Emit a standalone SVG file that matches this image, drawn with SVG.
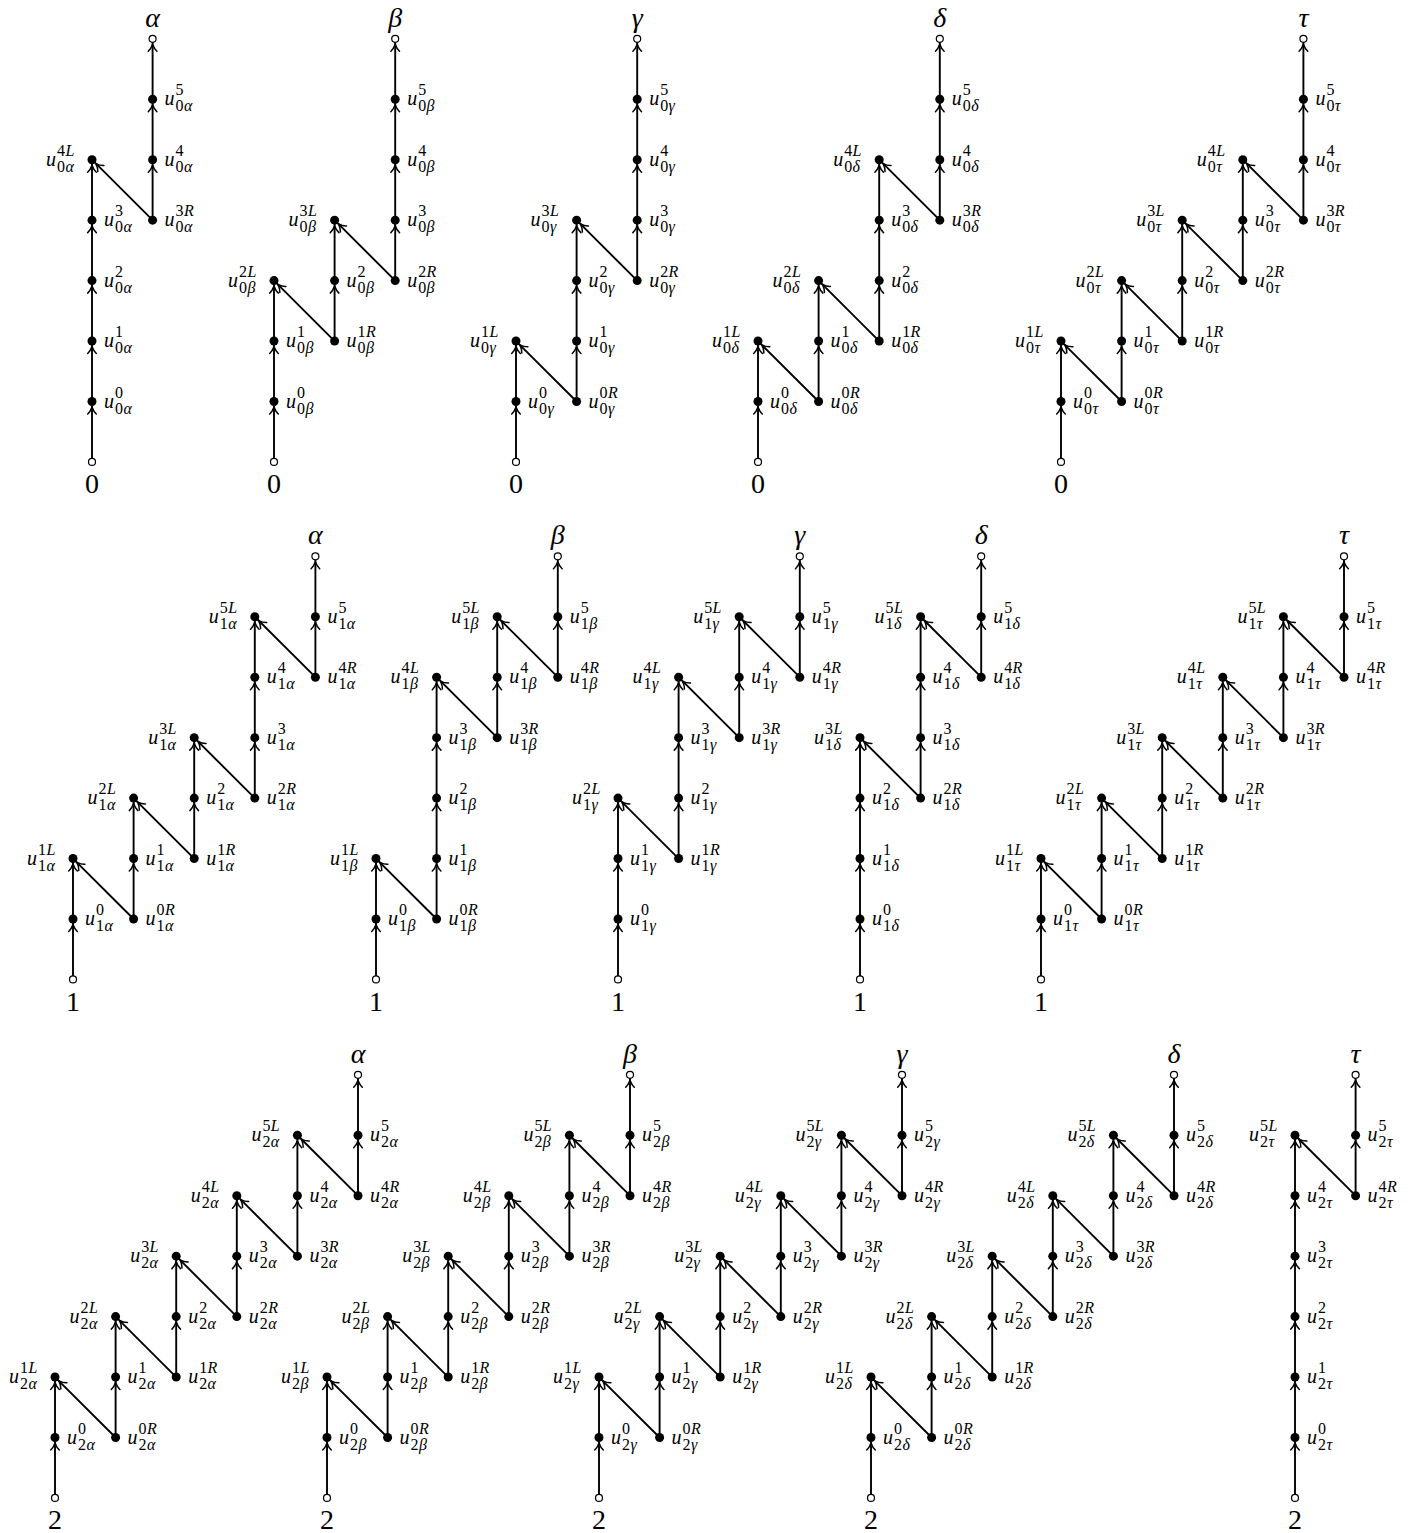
<svg xmlns="http://www.w3.org/2000/svg" width="1424" height="1533" viewBox="0 0 1424 1533" font-family="'Liberation Serif','DejaVu Serif',serif">
<defs>
<marker id="ah" viewBox="-10 -6 12 12" refX="5.5" refY="0" markerWidth="12" markerHeight="12" markerUnits="userSpaceOnUse" orient="auto">
<path d="M-7,-4.3 C-5.5,-2.6 -2.5,-0.9 0,0 C-2.5,0.9 -5.5,2.6 -7,4.3" fill="none" stroke="#000" stroke-width="1.5" stroke-linecap="round"/>
</marker>
</defs>
<style>
.d{fill:#000}
.o{fill:#fff;stroke:#000;stroke-width:1.2}
.e path{fill:none;stroke:#000;stroke-width:1.9;marker-end:url(#ah)}
.s{font-family:'Liberation Serif','DejaVu Serif',serif;font-size:16px;letter-spacing:0.4px;fill:#000}
.u{font-size:20px;font-style:italic;letter-spacing:0}
.i{font-style:italic}
.big{font-family:'Liberation Serif','DejaVu Serif',serif;font-size:28px;text-anchor:middle;fill:#000}
.gk{font-style:italic}
</style>
<rect width="1424" height="1533" fill="#fff"/>
<g id="connectors" class="e">
<g transform="translate(92,401.5)"><path d="M0,60.45V0"/><path d="M0,0V-60.45"/><path d="M0,-60.45V-120.9"/><path d="M0,-120.9V-181.35"/><path d="M0,-181.35V-241.8"/><path d="M60.6,-181.35L0,-241.8"/><path d="M60.6,-181.35V-241.8"/><path d="M60.6,-241.8V-302.25"/><path d="M60.6,-302.25V-362.7"/></g>
<g transform="translate(274,401.5)"><path d="M0,60.45V0"/><path d="M0,0V-60.45"/><path d="M0,-60.45V-120.9"/><path d="M60.6,-60.45L0,-120.9"/><path d="M60.6,-60.45V-120.9"/><path d="M60.6,-120.9V-181.35"/><path d="M121.2,-120.9L60.6,-181.35"/><path d="M121.2,-120.9V-181.35"/><path d="M121.2,-181.35V-241.8"/><path d="M121.2,-241.8V-302.25"/><path d="M121.2,-302.25V-362.7"/></g>
<g transform="translate(516,401.5)"><path d="M0,60.45V0"/><path d="M0,0V-60.45"/><path d="M60.6,0L0,-60.45"/><path d="M60.6,0V-60.45"/><path d="M60.6,-60.45V-120.9"/><path d="M60.6,-120.9V-181.35"/><path d="M121.2,-120.9L60.6,-181.35"/><path d="M121.2,-120.9V-181.35"/><path d="M121.2,-181.35V-241.8"/><path d="M121.2,-241.8V-302.25"/><path d="M121.2,-302.25V-362.7"/></g>
<g transform="translate(758,401.5)"><path d="M0,60.45V0"/><path d="M0,0V-60.45"/><path d="M60.6,0L0,-60.45"/><path d="M60.6,0V-60.45"/><path d="M60.6,-60.45V-120.9"/><path d="M121.2,-60.45L60.6,-120.9"/><path d="M121.2,-60.45V-120.9"/><path d="M121.2,-120.9V-181.35"/><path d="M121.2,-181.35V-241.8"/><path d="M181.8,-181.35L121.2,-241.8"/><path d="M181.8,-181.35V-241.8"/><path d="M181.8,-241.8V-302.25"/><path d="M181.8,-302.25V-362.7"/></g>
<g transform="translate(1061,401.5)"><path d="M0,60.45V0"/><path d="M0,0V-60.45"/><path d="M60.6,0L0,-60.45"/><path d="M60.6,0V-60.45"/><path d="M60.6,-60.45V-120.9"/><path d="M121.2,-60.45L60.6,-120.9"/><path d="M121.2,-60.45V-120.9"/><path d="M121.2,-120.9V-181.35"/><path d="M181.8,-120.9L121.2,-181.35"/><path d="M181.8,-120.9V-181.35"/><path d="M181.8,-181.35V-241.8"/><path d="M242.4,-181.35L181.8,-241.8"/><path d="M242.4,-181.35V-241.8"/><path d="M242.4,-241.8V-302.25"/><path d="M242.4,-302.25V-362.7"/></g>
<g transform="translate(73,919)"><path d="M0,60.45V0"/><path d="M0,0V-60.45"/><path d="M60.6,0L0,-60.45"/><path d="M60.6,0V-60.45"/><path d="M60.6,-60.45V-120.9"/><path d="M121.2,-60.45L60.6,-120.9"/><path d="M121.2,-60.45V-120.9"/><path d="M121.2,-120.9V-181.35"/><path d="M181.8,-120.9L121.2,-181.35"/><path d="M181.8,-120.9V-181.35"/><path d="M181.8,-181.35V-241.8"/><path d="M181.8,-241.8V-302.25"/><path d="M242.4,-241.8L181.8,-302.25"/><path d="M242.4,-241.8V-302.25"/><path d="M242.4,-302.25V-362.7"/></g>
<g transform="translate(376,919)"><path d="M0,60.45V0"/><path d="M0,0V-60.45"/><path d="M60.6,0L0,-60.45"/><path d="M60.6,0V-60.45"/><path d="M60.6,-60.45V-120.9"/><path d="M60.6,-120.9V-181.35"/><path d="M60.6,-181.35V-241.8"/><path d="M121.2,-181.35L60.6,-241.8"/><path d="M121.2,-181.35V-241.8"/><path d="M121.2,-241.8V-302.25"/><path d="M181.8,-241.8L121.2,-302.25"/><path d="M181.8,-241.8V-302.25"/><path d="M181.8,-302.25V-362.7"/></g>
<g transform="translate(618,919)"><path d="M0,60.45V0"/><path d="M0,0V-60.45"/><path d="M0,-60.45V-120.9"/><path d="M60.6,-60.45L0,-120.9"/><path d="M60.6,-60.45V-120.9"/><path d="M60.6,-120.9V-181.35"/><path d="M60.6,-181.35V-241.8"/><path d="M121.2,-181.35L60.6,-241.8"/><path d="M121.2,-181.35V-241.8"/><path d="M121.2,-241.8V-302.25"/><path d="M181.8,-241.8L121.2,-302.25"/><path d="M181.8,-241.8V-302.25"/><path d="M181.8,-302.25V-362.7"/></g>
<g transform="translate(860,919)"><path d="M0,60.45V0"/><path d="M0,0V-60.45"/><path d="M0,-60.45V-120.9"/><path d="M0,-120.9V-181.35"/><path d="M60.6,-120.9L0,-181.35"/><path d="M60.6,-120.9V-181.35"/><path d="M60.6,-181.35V-241.8"/><path d="M60.6,-241.8V-302.25"/><path d="M121.2,-241.8L60.6,-302.25"/><path d="M121.2,-241.8V-302.25"/><path d="M121.2,-302.25V-362.7"/></g>
<g transform="translate(1041,919)"><path d="M0,60.45V0"/><path d="M0,0V-60.45"/><path d="M60.6,0L0,-60.45"/><path d="M60.6,0V-60.45"/><path d="M60.6,-60.45V-120.9"/><path d="M121.2,-60.45L60.6,-120.9"/><path d="M121.2,-60.45V-120.9"/><path d="M121.2,-120.9V-181.35"/><path d="M181.8,-120.9L121.2,-181.35"/><path d="M181.8,-120.9V-181.35"/><path d="M181.8,-181.35V-241.8"/><path d="M242.4,-181.35L181.8,-241.8"/><path d="M242.4,-181.35V-241.8"/><path d="M242.4,-241.8V-302.25"/><path d="M303,-241.8L242.4,-302.25"/><path d="M303,-241.8V-302.25"/><path d="M303,-302.25V-362.7"/></g>
<g transform="translate(55,1437.5)"><path d="M0,60.45V0"/><path d="M0,0V-60.45"/><path d="M60.6,0L0,-60.45"/><path d="M60.6,0V-60.45"/><path d="M60.6,-60.45V-120.9"/><path d="M121.2,-60.45L60.6,-120.9"/><path d="M121.2,-60.45V-120.9"/><path d="M121.2,-120.9V-181.35"/><path d="M181.8,-120.9L121.2,-181.35"/><path d="M181.8,-120.9V-181.35"/><path d="M181.8,-181.35V-241.8"/><path d="M242.4,-181.35L181.8,-241.8"/><path d="M242.4,-181.35V-241.8"/><path d="M242.4,-241.8V-302.25"/><path d="M303,-241.8L242.4,-302.25"/><path d="M303,-241.8V-302.25"/><path d="M303,-302.25V-362.7"/></g>
<g transform="translate(327,1437.5)"><path d="M0,60.45V0"/><path d="M0,0V-60.45"/><path d="M60.6,0L0,-60.45"/><path d="M60.6,0V-60.45"/><path d="M60.6,-60.45V-120.9"/><path d="M121.2,-60.45L60.6,-120.9"/><path d="M121.2,-60.45V-120.9"/><path d="M121.2,-120.9V-181.35"/><path d="M181.8,-120.9L121.2,-181.35"/><path d="M181.8,-120.9V-181.35"/><path d="M181.8,-181.35V-241.8"/><path d="M242.4,-181.35L181.8,-241.8"/><path d="M242.4,-181.35V-241.8"/><path d="M242.4,-241.8V-302.25"/><path d="M303,-241.8L242.4,-302.25"/><path d="M303,-241.8V-302.25"/><path d="M303,-302.25V-362.7"/></g>
<g transform="translate(599,1437.5)"><path d="M0,60.45V0"/><path d="M0,0V-60.45"/><path d="M60.6,0L0,-60.45"/><path d="M60.6,0V-60.45"/><path d="M60.6,-60.45V-120.9"/><path d="M121.2,-60.45L60.6,-120.9"/><path d="M121.2,-60.45V-120.9"/><path d="M121.2,-120.9V-181.35"/><path d="M181.8,-120.9L121.2,-181.35"/><path d="M181.8,-120.9V-181.35"/><path d="M181.8,-181.35V-241.8"/><path d="M242.4,-181.35L181.8,-241.8"/><path d="M242.4,-181.35V-241.8"/><path d="M242.4,-241.8V-302.25"/><path d="M303,-241.8L242.4,-302.25"/><path d="M303,-241.8V-302.25"/><path d="M303,-302.25V-362.7"/></g>
<g transform="translate(871,1437.5)"><path d="M0,60.45V0"/><path d="M0,0V-60.45"/><path d="M60.6,0L0,-60.45"/><path d="M60.6,0V-60.45"/><path d="M60.6,-60.45V-120.9"/><path d="M121.2,-60.45L60.6,-120.9"/><path d="M121.2,-60.45V-120.9"/><path d="M121.2,-120.9V-181.35"/><path d="M181.8,-120.9L121.2,-181.35"/><path d="M181.8,-120.9V-181.35"/><path d="M181.8,-181.35V-241.8"/><path d="M242.4,-181.35L181.8,-241.8"/><path d="M242.4,-181.35V-241.8"/><path d="M242.4,-241.8V-302.25"/><path d="M303,-241.8L242.4,-302.25"/><path d="M303,-241.8V-302.25"/><path d="M303,-302.25V-362.7"/></g>
<g transform="translate(1295,1437.5)"><path d="M0,60.45V0"/><path d="M0,0V-60.45"/><path d="M0,-60.45V-120.9"/><path d="M0,-120.9V-181.35"/><path d="M0,-181.35V-241.8"/><path d="M0,-241.8V-302.25"/><path d="M60.6,-241.8L0,-302.25"/><path d="M60.6,-241.8V-302.25"/><path d="M60.6,-302.25V-362.7"/></g>
</g>
<g id="nodes">
<g id="graph-0a" transform="translate(92,401.5)">
<g id="n0a-src" transform="translate(0,60.45)"><circle class="o" r="3.5"/><text class="big" y="31.5">0</text></g>
<g id="n0a-0" transform="translate(0,0)"><circle class="d" r="4.5"/><text class="s"><tspan class="u" x="12" y="6">u</tspan><tspan x="23" y="-4">0</tspan><tspan x="23" y="12">0<tspan class="i">α</tspan></tspan></text></g>
<g id="n0a-1" transform="translate(0,-60.45)"><circle class="d" r="4.5"/><text class="s"><tspan class="u" x="12" y="6">u</tspan><tspan x="23" y="-4">1</tspan><tspan x="23" y="12">0<tspan class="i">α</tspan></tspan></text></g>
<g id="n0a-2" transform="translate(0,-120.9)"><circle class="d" r="4.5"/><text class="s"><tspan class="u" x="12" y="6">u</tspan><tspan x="23" y="-4">2</tspan><tspan x="23" y="12">0<tspan class="i">α</tspan></tspan></text></g>
<g id="n0a-3" transform="translate(0,-181.35)"><circle class="d" r="4.5"/><text class="s"><tspan class="u" x="12" y="6">u</tspan><tspan x="23" y="-4">3</tspan><tspan x="23" y="12">0<tspan class="i">α</tspan></tspan></text></g>
<g id="n0a-4L" transform="translate(0,-241.8)"><circle class="d" r="4.5"/><text class="s"><tspan class="u" x="-46" y="6">u</tspan><tspan x="-35" y="-4">4<tspan class="i">L</tspan></tspan><tspan x="-35" y="12">0<tspan class="i">α</tspan></tspan></text></g>
<g id="n0a-3R" transform="translate(60.6,-181.35)"><circle class="d" r="4.5"/><text class="s"><tspan class="u" x="12" y="6">u</tspan><tspan x="23" y="-4">3<tspan class="i">R</tspan></tspan><tspan x="23" y="12">0<tspan class="i">α</tspan></tspan></text></g>
<g id="n0a-4" transform="translate(60.6,-241.8)"><circle class="d" r="4.5"/><text class="s"><tspan class="u" x="12" y="6">u</tspan><tspan x="23" y="-4">4</tspan><tspan x="23" y="12">0<tspan class="i">α</tspan></tspan></text></g>
<g id="n0a-5" transform="translate(60.6,-302.25)"><circle class="d" r="4.5"/><text class="s"><tspan class="u" x="12" y="6">u</tspan><tspan x="23" y="-4">5</tspan><tspan x="23" y="12">0<tspan class="i">α</tspan></tspan></text></g>
<g id="n0a-tgt" transform="translate(60.6,-362.7)"><circle class="o" r="3.5"/><text class="big gk" y="-12">α</text></g>
</g>
<g id="graph-0b" transform="translate(274,401.5)">
<g id="n0b-src" transform="translate(0,60.45)"><circle class="o" r="3.5"/><text class="big" y="31.5">0</text></g>
<g id="n0b-0" transform="translate(0,0)"><circle class="d" r="4.5"/><text class="s"><tspan class="u" x="12" y="6">u</tspan><tspan x="23" y="-4">0</tspan><tspan x="23" y="12">0<tspan class="i">β</tspan></tspan></text></g>
<g id="n0b-1" transform="translate(0,-60.45)"><circle class="d" r="4.5"/><text class="s"><tspan class="u" x="12" y="6">u</tspan><tspan x="23" y="-4">1</tspan><tspan x="23" y="12">0<tspan class="i">β</tspan></tspan></text></g>
<g id="n0b-2L" transform="translate(0,-120.9)"><circle class="d" r="4.5"/><text class="s"><tspan class="u" x="-46" y="6">u</tspan><tspan x="-35" y="-4">2<tspan class="i">L</tspan></tspan><tspan x="-35" y="12">0<tspan class="i">β</tspan></tspan></text></g>
<g id="n0b-1R" transform="translate(60.6,-60.45)"><circle class="d" r="4.5"/><text class="s"><tspan class="u" x="12" y="6">u</tspan><tspan x="23" y="-4">1<tspan class="i">R</tspan></tspan><tspan x="23" y="12">0<tspan class="i">β</tspan></tspan></text></g>
<g id="n0b-2" transform="translate(60.6,-120.9)"><circle class="d" r="4.5"/><text class="s"><tspan class="u" x="12" y="6">u</tspan><tspan x="23" y="-4">2</tspan><tspan x="23" y="12">0<tspan class="i">β</tspan></tspan></text></g>
<g id="n0b-3L" transform="translate(60.6,-181.35)"><circle class="d" r="4.5"/><text class="s"><tspan class="u" x="-46" y="6">u</tspan><tspan x="-35" y="-4">3<tspan class="i">L</tspan></tspan><tspan x="-35" y="12">0<tspan class="i">β</tspan></tspan></text></g>
<g id="n0b-2R" transform="translate(121.2,-120.9)"><circle class="d" r="4.5"/><text class="s"><tspan class="u" x="12" y="6">u</tspan><tspan x="23" y="-4">2<tspan class="i">R</tspan></tspan><tspan x="23" y="12">0<tspan class="i">β</tspan></tspan></text></g>
<g id="n0b-3" transform="translate(121.2,-181.35)"><circle class="d" r="4.5"/><text class="s"><tspan class="u" x="12" y="6">u</tspan><tspan x="23" y="-4">3</tspan><tspan x="23" y="12">0<tspan class="i">β</tspan></tspan></text></g>
<g id="n0b-4" transform="translate(121.2,-241.8)"><circle class="d" r="4.5"/><text class="s"><tspan class="u" x="12" y="6">u</tspan><tspan x="23" y="-4">4</tspan><tspan x="23" y="12">0<tspan class="i">β</tspan></tspan></text></g>
<g id="n0b-5" transform="translate(121.2,-302.25)"><circle class="d" r="4.5"/><text class="s"><tspan class="u" x="12" y="6">u</tspan><tspan x="23" y="-4">5</tspan><tspan x="23" y="12">0<tspan class="i">β</tspan></tspan></text></g>
<g id="n0b-tgt" transform="translate(121.2,-362.7)"><circle class="o" r="3.5"/><text class="big gk" y="-12">β</text></g>
</g>
<g id="graph-0g" transform="translate(516,401.5)">
<g id="n0g-src" transform="translate(0,60.45)"><circle class="o" r="3.5"/><text class="big" y="31.5">0</text></g>
<g id="n0g-0" transform="translate(0,0)"><circle class="d" r="4.5"/><text class="s"><tspan class="u" x="12" y="6">u</tspan><tspan x="23" y="-4">0</tspan><tspan x="23" y="12">0<tspan class="i">γ</tspan></tspan></text></g>
<g id="n0g-1L" transform="translate(0,-60.45)"><circle class="d" r="4.5"/><text class="s"><tspan class="u" x="-46" y="6">u</tspan><tspan x="-35" y="-4">1<tspan class="i">L</tspan></tspan><tspan x="-35" y="12">0<tspan class="i">γ</tspan></tspan></text></g>
<g id="n0g-0R" transform="translate(60.6,0)"><circle class="d" r="4.5"/><text class="s"><tspan class="u" x="12" y="6">u</tspan><tspan x="23" y="-4">0<tspan class="i">R</tspan></tspan><tspan x="23" y="12">0<tspan class="i">γ</tspan></tspan></text></g>
<g id="n0g-1" transform="translate(60.6,-60.45)"><circle class="d" r="4.5"/><text class="s"><tspan class="u" x="12" y="6">u</tspan><tspan x="23" y="-4">1</tspan><tspan x="23" y="12">0<tspan class="i">γ</tspan></tspan></text></g>
<g id="n0g-2" transform="translate(60.6,-120.9)"><circle class="d" r="4.5"/><text class="s"><tspan class="u" x="12" y="6">u</tspan><tspan x="23" y="-4">2</tspan><tspan x="23" y="12">0<tspan class="i">γ</tspan></tspan></text></g>
<g id="n0g-3L" transform="translate(60.6,-181.35)"><circle class="d" r="4.5"/><text class="s"><tspan class="u" x="-46" y="6">u</tspan><tspan x="-35" y="-4">3<tspan class="i">L</tspan></tspan><tspan x="-35" y="12">0<tspan class="i">γ</tspan></tspan></text></g>
<g id="n0g-2R" transform="translate(121.2,-120.9)"><circle class="d" r="4.5"/><text class="s"><tspan class="u" x="12" y="6">u</tspan><tspan x="23" y="-4">2<tspan class="i">R</tspan></tspan><tspan x="23" y="12">0<tspan class="i">γ</tspan></tspan></text></g>
<g id="n0g-3" transform="translate(121.2,-181.35)"><circle class="d" r="4.5"/><text class="s"><tspan class="u" x="12" y="6">u</tspan><tspan x="23" y="-4">3</tspan><tspan x="23" y="12">0<tspan class="i">γ</tspan></tspan></text></g>
<g id="n0g-4" transform="translate(121.2,-241.8)"><circle class="d" r="4.5"/><text class="s"><tspan class="u" x="12" y="6">u</tspan><tspan x="23" y="-4">4</tspan><tspan x="23" y="12">0<tspan class="i">γ</tspan></tspan></text></g>
<g id="n0g-5" transform="translate(121.2,-302.25)"><circle class="d" r="4.5"/><text class="s"><tspan class="u" x="12" y="6">u</tspan><tspan x="23" y="-4">5</tspan><tspan x="23" y="12">0<tspan class="i">γ</tspan></tspan></text></g>
<g id="n0g-tgt" transform="translate(121.2,-362.7)"><circle class="o" r="3.5"/><text class="big gk" y="-12">γ</text></g>
</g>
<g id="graph-0d" transform="translate(758,401.5)">
<g id="n0d-src" transform="translate(0,60.45)"><circle class="o" r="3.5"/><text class="big" y="31.5">0</text></g>
<g id="n0d-0" transform="translate(0,0)"><circle class="d" r="4.5"/><text class="s"><tspan class="u" x="12" y="6">u</tspan><tspan x="23" y="-4">0</tspan><tspan x="23" y="12">0<tspan class="i">δ</tspan></tspan></text></g>
<g id="n0d-1L" transform="translate(0,-60.45)"><circle class="d" r="4.5"/><text class="s"><tspan class="u" x="-46" y="6">u</tspan><tspan x="-35" y="-4">1<tspan class="i">L</tspan></tspan><tspan x="-35" y="12">0<tspan class="i">δ</tspan></tspan></text></g>
<g id="n0d-0R" transform="translate(60.6,0)"><circle class="d" r="4.5"/><text class="s"><tspan class="u" x="12" y="6">u</tspan><tspan x="23" y="-4">0<tspan class="i">R</tspan></tspan><tspan x="23" y="12">0<tspan class="i">δ</tspan></tspan></text></g>
<g id="n0d-1" transform="translate(60.6,-60.45)"><circle class="d" r="4.5"/><text class="s"><tspan class="u" x="12" y="6">u</tspan><tspan x="23" y="-4">1</tspan><tspan x="23" y="12">0<tspan class="i">δ</tspan></tspan></text></g>
<g id="n0d-2L" transform="translate(60.6,-120.9)"><circle class="d" r="4.5"/><text class="s"><tspan class="u" x="-46" y="6">u</tspan><tspan x="-35" y="-4">2<tspan class="i">L</tspan></tspan><tspan x="-35" y="12">0<tspan class="i">δ</tspan></tspan></text></g>
<g id="n0d-1R" transform="translate(121.2,-60.45)"><circle class="d" r="4.5"/><text class="s"><tspan class="u" x="12" y="6">u</tspan><tspan x="23" y="-4">1<tspan class="i">R</tspan></tspan><tspan x="23" y="12">0<tspan class="i">δ</tspan></tspan></text></g>
<g id="n0d-2" transform="translate(121.2,-120.9)"><circle class="d" r="4.5"/><text class="s"><tspan class="u" x="12" y="6">u</tspan><tspan x="23" y="-4">2</tspan><tspan x="23" y="12">0<tspan class="i">δ</tspan></tspan></text></g>
<g id="n0d-3" transform="translate(121.2,-181.35)"><circle class="d" r="4.5"/><text class="s"><tspan class="u" x="12" y="6">u</tspan><tspan x="23" y="-4">3</tspan><tspan x="23" y="12">0<tspan class="i">δ</tspan></tspan></text></g>
<g id="n0d-4L" transform="translate(121.2,-241.8)"><circle class="d" r="4.5"/><text class="s"><tspan class="u" x="-46" y="6">u</tspan><tspan x="-35" y="-4">4<tspan class="i">L</tspan></tspan><tspan x="-35" y="12">0<tspan class="i">δ</tspan></tspan></text></g>
<g id="n0d-3R" transform="translate(181.8,-181.35)"><circle class="d" r="4.5"/><text class="s"><tspan class="u" x="12" y="6">u</tspan><tspan x="23" y="-4">3<tspan class="i">R</tspan></tspan><tspan x="23" y="12">0<tspan class="i">δ</tspan></tspan></text></g>
<g id="n0d-4" transform="translate(181.8,-241.8)"><circle class="d" r="4.5"/><text class="s"><tspan class="u" x="12" y="6">u</tspan><tspan x="23" y="-4">4</tspan><tspan x="23" y="12">0<tspan class="i">δ</tspan></tspan></text></g>
<g id="n0d-5" transform="translate(181.8,-302.25)"><circle class="d" r="4.5"/><text class="s"><tspan class="u" x="12" y="6">u</tspan><tspan x="23" y="-4">5</tspan><tspan x="23" y="12">0<tspan class="i">δ</tspan></tspan></text></g>
<g id="n0d-tgt" transform="translate(181.8,-362.7)"><circle class="o" r="3.5"/><text class="big gk" y="-12">δ</text></g>
</g>
<g id="graph-0t" transform="translate(1061,401.5)">
<g id="n0t-src" transform="translate(0,60.45)"><circle class="o" r="3.5"/><text class="big" y="31.5">0</text></g>
<g id="n0t-0" transform="translate(0,0)"><circle class="d" r="4.5"/><text class="s"><tspan class="u" x="12" y="6">u</tspan><tspan x="23" y="-4">0</tspan><tspan x="23" y="12">0<tspan class="i">τ</tspan></tspan></text></g>
<g id="n0t-1L" transform="translate(0,-60.45)"><circle class="d" r="4.5"/><text class="s"><tspan class="u" x="-46" y="6">u</tspan><tspan x="-35" y="-4">1<tspan class="i">L</tspan></tspan><tspan x="-35" y="12">0<tspan class="i">τ</tspan></tspan></text></g>
<g id="n0t-0R" transform="translate(60.6,0)"><circle class="d" r="4.5"/><text class="s"><tspan class="u" x="12" y="6">u</tspan><tspan x="23" y="-4">0<tspan class="i">R</tspan></tspan><tspan x="23" y="12">0<tspan class="i">τ</tspan></tspan></text></g>
<g id="n0t-1" transform="translate(60.6,-60.45)"><circle class="d" r="4.5"/><text class="s"><tspan class="u" x="12" y="6">u</tspan><tspan x="23" y="-4">1</tspan><tspan x="23" y="12">0<tspan class="i">τ</tspan></tspan></text></g>
<g id="n0t-2L" transform="translate(60.6,-120.9)"><circle class="d" r="4.5"/><text class="s"><tspan class="u" x="-46" y="6">u</tspan><tspan x="-35" y="-4">2<tspan class="i">L</tspan></tspan><tspan x="-35" y="12">0<tspan class="i">τ</tspan></tspan></text></g>
<g id="n0t-1R" transform="translate(121.2,-60.45)"><circle class="d" r="4.5"/><text class="s"><tspan class="u" x="12" y="6">u</tspan><tspan x="23" y="-4">1<tspan class="i">R</tspan></tspan><tspan x="23" y="12">0<tspan class="i">τ</tspan></tspan></text></g>
<g id="n0t-2" transform="translate(121.2,-120.9)"><circle class="d" r="4.5"/><text class="s"><tspan class="u" x="12" y="6">u</tspan><tspan x="23" y="-4">2</tspan><tspan x="23" y="12">0<tspan class="i">τ</tspan></tspan></text></g>
<g id="n0t-3L" transform="translate(121.2,-181.35)"><circle class="d" r="4.5"/><text class="s"><tspan class="u" x="-46" y="6">u</tspan><tspan x="-35" y="-4">3<tspan class="i">L</tspan></tspan><tspan x="-35" y="12">0<tspan class="i">τ</tspan></tspan></text></g>
<g id="n0t-2R" transform="translate(181.8,-120.9)"><circle class="d" r="4.5"/><text class="s"><tspan class="u" x="12" y="6">u</tspan><tspan x="23" y="-4">2<tspan class="i">R</tspan></tspan><tspan x="23" y="12">0<tspan class="i">τ</tspan></tspan></text></g>
<g id="n0t-3" transform="translate(181.8,-181.35)"><circle class="d" r="4.5"/><text class="s"><tspan class="u" x="12" y="6">u</tspan><tspan x="23" y="-4">3</tspan><tspan x="23" y="12">0<tspan class="i">τ</tspan></tspan></text></g>
<g id="n0t-4L" transform="translate(181.8,-241.8)"><circle class="d" r="4.5"/><text class="s"><tspan class="u" x="-46" y="6">u</tspan><tspan x="-35" y="-4">4<tspan class="i">L</tspan></tspan><tspan x="-35" y="12">0<tspan class="i">τ</tspan></tspan></text></g>
<g id="n0t-3R" transform="translate(242.4,-181.35)"><circle class="d" r="4.5"/><text class="s"><tspan class="u" x="12" y="6">u</tspan><tspan x="23" y="-4">3<tspan class="i">R</tspan></tspan><tspan x="23" y="12">0<tspan class="i">τ</tspan></tspan></text></g>
<g id="n0t-4" transform="translate(242.4,-241.8)"><circle class="d" r="4.5"/><text class="s"><tspan class="u" x="12" y="6">u</tspan><tspan x="23" y="-4">4</tspan><tspan x="23" y="12">0<tspan class="i">τ</tspan></tspan></text></g>
<g id="n0t-5" transform="translate(242.4,-302.25)"><circle class="d" r="4.5"/><text class="s"><tspan class="u" x="12" y="6">u</tspan><tspan x="23" y="-4">5</tspan><tspan x="23" y="12">0<tspan class="i">τ</tspan></tspan></text></g>
<g id="n0t-tgt" transform="translate(242.4,-362.7)"><circle class="o" r="3.5"/><text class="big gk" y="-12">τ</text></g>
</g>
<g id="graph-1a" transform="translate(73,919)">
<g id="n1a-src" transform="translate(0,60.45)"><circle class="o" r="3.5"/><text class="big" y="31.5">1</text></g>
<g id="n1a-0" transform="translate(0,0)"><circle class="d" r="4.5"/><text class="s"><tspan class="u" x="12" y="6">u</tspan><tspan x="23" y="-4">0</tspan><tspan x="23" y="12">1<tspan class="i">α</tspan></tspan></text></g>
<g id="n1a-1L" transform="translate(0,-60.45)"><circle class="d" r="4.5"/><text class="s"><tspan class="u" x="-46" y="6">u</tspan><tspan x="-35" y="-4">1<tspan class="i">L</tspan></tspan><tspan x="-35" y="12">1<tspan class="i">α</tspan></tspan></text></g>
<g id="n1a-0R" transform="translate(60.6,0)"><circle class="d" r="4.5"/><text class="s"><tspan class="u" x="12" y="6">u</tspan><tspan x="23" y="-4">0<tspan class="i">R</tspan></tspan><tspan x="23" y="12">1<tspan class="i">α</tspan></tspan></text></g>
<g id="n1a-1" transform="translate(60.6,-60.45)"><circle class="d" r="4.5"/><text class="s"><tspan class="u" x="12" y="6">u</tspan><tspan x="23" y="-4">1</tspan><tspan x="23" y="12">1<tspan class="i">α</tspan></tspan></text></g>
<g id="n1a-2L" transform="translate(60.6,-120.9)"><circle class="d" r="4.5"/><text class="s"><tspan class="u" x="-46" y="6">u</tspan><tspan x="-35" y="-4">2<tspan class="i">L</tspan></tspan><tspan x="-35" y="12">1<tspan class="i">α</tspan></tspan></text></g>
<g id="n1a-1R" transform="translate(121.2,-60.45)"><circle class="d" r="4.5"/><text class="s"><tspan class="u" x="12" y="6">u</tspan><tspan x="23" y="-4">1<tspan class="i">R</tspan></tspan><tspan x="23" y="12">1<tspan class="i">α</tspan></tspan></text></g>
<g id="n1a-2" transform="translate(121.2,-120.9)"><circle class="d" r="4.5"/><text class="s"><tspan class="u" x="12" y="6">u</tspan><tspan x="23" y="-4">2</tspan><tspan x="23" y="12">1<tspan class="i">α</tspan></tspan></text></g>
<g id="n1a-3L" transform="translate(121.2,-181.35)"><circle class="d" r="4.5"/><text class="s"><tspan class="u" x="-46" y="6">u</tspan><tspan x="-35" y="-4">3<tspan class="i">L</tspan></tspan><tspan x="-35" y="12">1<tspan class="i">α</tspan></tspan></text></g>
<g id="n1a-2R" transform="translate(181.8,-120.9)"><circle class="d" r="4.5"/><text class="s"><tspan class="u" x="12" y="6">u</tspan><tspan x="23" y="-4">2<tspan class="i">R</tspan></tspan><tspan x="23" y="12">1<tspan class="i">α</tspan></tspan></text></g>
<g id="n1a-3" transform="translate(181.8,-181.35)"><circle class="d" r="4.5"/><text class="s"><tspan class="u" x="12" y="6">u</tspan><tspan x="23" y="-4">3</tspan><tspan x="23" y="12">1<tspan class="i">α</tspan></tspan></text></g>
<g id="n1a-4" transform="translate(181.8,-241.8)"><circle class="d" r="4.5"/><text class="s"><tspan class="u" x="12" y="6">u</tspan><tspan x="23" y="-4">4</tspan><tspan x="23" y="12">1<tspan class="i">α</tspan></tspan></text></g>
<g id="n1a-5L" transform="translate(181.8,-302.25)"><circle class="d" r="4.5"/><text class="s"><tspan class="u" x="-46" y="6">u</tspan><tspan x="-35" y="-4">5<tspan class="i">L</tspan></tspan><tspan x="-35" y="12">1<tspan class="i">α</tspan></tspan></text></g>
<g id="n1a-4R" transform="translate(242.4,-241.8)"><circle class="d" r="4.5"/><text class="s"><tspan class="u" x="12" y="6">u</tspan><tspan x="23" y="-4">4<tspan class="i">R</tspan></tspan><tspan x="23" y="12">1<tspan class="i">α</tspan></tspan></text></g>
<g id="n1a-5" transform="translate(242.4,-302.25)"><circle class="d" r="4.5"/><text class="s"><tspan class="u" x="12" y="6">u</tspan><tspan x="23" y="-4">5</tspan><tspan x="23" y="12">1<tspan class="i">α</tspan></tspan></text></g>
<g id="n1a-tgt" transform="translate(242.4,-362.7)"><circle class="o" r="3.5"/><text class="big gk" y="-12">α</text></g>
</g>
<g id="graph-1b" transform="translate(376,919)">
<g id="n1b-src" transform="translate(0,60.45)"><circle class="o" r="3.5"/><text class="big" y="31.5">1</text></g>
<g id="n1b-0" transform="translate(0,0)"><circle class="d" r="4.5"/><text class="s"><tspan class="u" x="12" y="6">u</tspan><tspan x="23" y="-4">0</tspan><tspan x="23" y="12">1<tspan class="i">β</tspan></tspan></text></g>
<g id="n1b-1L" transform="translate(0,-60.45)"><circle class="d" r="4.5"/><text class="s"><tspan class="u" x="-46" y="6">u</tspan><tspan x="-35" y="-4">1<tspan class="i">L</tspan></tspan><tspan x="-35" y="12">1<tspan class="i">β</tspan></tspan></text></g>
<g id="n1b-0R" transform="translate(60.6,0)"><circle class="d" r="4.5"/><text class="s"><tspan class="u" x="12" y="6">u</tspan><tspan x="23" y="-4">0<tspan class="i">R</tspan></tspan><tspan x="23" y="12">1<tspan class="i">β</tspan></tspan></text></g>
<g id="n1b-1" transform="translate(60.6,-60.45)"><circle class="d" r="4.5"/><text class="s"><tspan class="u" x="12" y="6">u</tspan><tspan x="23" y="-4">1</tspan><tspan x="23" y="12">1<tspan class="i">β</tspan></tspan></text></g>
<g id="n1b-2" transform="translate(60.6,-120.9)"><circle class="d" r="4.5"/><text class="s"><tspan class="u" x="12" y="6">u</tspan><tspan x="23" y="-4">2</tspan><tspan x="23" y="12">1<tspan class="i">β</tspan></tspan></text></g>
<g id="n1b-3" transform="translate(60.6,-181.35)"><circle class="d" r="4.5"/><text class="s"><tspan class="u" x="12" y="6">u</tspan><tspan x="23" y="-4">3</tspan><tspan x="23" y="12">1<tspan class="i">β</tspan></tspan></text></g>
<g id="n1b-4L" transform="translate(60.6,-241.8)"><circle class="d" r="4.5"/><text class="s"><tspan class="u" x="-46" y="6">u</tspan><tspan x="-35" y="-4">4<tspan class="i">L</tspan></tspan><tspan x="-35" y="12">1<tspan class="i">β</tspan></tspan></text></g>
<g id="n1b-3R" transform="translate(121.2,-181.35)"><circle class="d" r="4.5"/><text class="s"><tspan class="u" x="12" y="6">u</tspan><tspan x="23" y="-4">3<tspan class="i">R</tspan></tspan><tspan x="23" y="12">1<tspan class="i">β</tspan></tspan></text></g>
<g id="n1b-4" transform="translate(121.2,-241.8)"><circle class="d" r="4.5"/><text class="s"><tspan class="u" x="12" y="6">u</tspan><tspan x="23" y="-4">4</tspan><tspan x="23" y="12">1<tspan class="i">β</tspan></tspan></text></g>
<g id="n1b-5L" transform="translate(121.2,-302.25)"><circle class="d" r="4.5"/><text class="s"><tspan class="u" x="-46" y="6">u</tspan><tspan x="-35" y="-4">5<tspan class="i">L</tspan></tspan><tspan x="-35" y="12">1<tspan class="i">β</tspan></tspan></text></g>
<g id="n1b-4R" transform="translate(181.8,-241.8)"><circle class="d" r="4.5"/><text class="s"><tspan class="u" x="12" y="6">u</tspan><tspan x="23" y="-4">4<tspan class="i">R</tspan></tspan><tspan x="23" y="12">1<tspan class="i">β</tspan></tspan></text></g>
<g id="n1b-5" transform="translate(181.8,-302.25)"><circle class="d" r="4.5"/><text class="s"><tspan class="u" x="12" y="6">u</tspan><tspan x="23" y="-4">5</tspan><tspan x="23" y="12">1<tspan class="i">β</tspan></tspan></text></g>
<g id="n1b-tgt" transform="translate(181.8,-362.7)"><circle class="o" r="3.5"/><text class="big gk" y="-12">β</text></g>
</g>
<g id="graph-1g" transform="translate(618,919)">
<g id="n1g-src" transform="translate(0,60.45)"><circle class="o" r="3.5"/><text class="big" y="31.5">1</text></g>
<g id="n1g-0" transform="translate(0,0)"><circle class="d" r="4.5"/><text class="s"><tspan class="u" x="12" y="6">u</tspan><tspan x="23" y="-4">0</tspan><tspan x="23" y="12">1<tspan class="i">γ</tspan></tspan></text></g>
<g id="n1g-1" transform="translate(0,-60.45)"><circle class="d" r="4.5"/><text class="s"><tspan class="u" x="12" y="6">u</tspan><tspan x="23" y="-4">1</tspan><tspan x="23" y="12">1<tspan class="i">γ</tspan></tspan></text></g>
<g id="n1g-2L" transform="translate(0,-120.9)"><circle class="d" r="4.5"/><text class="s"><tspan class="u" x="-46" y="6">u</tspan><tspan x="-35" y="-4">2<tspan class="i">L</tspan></tspan><tspan x="-35" y="12">1<tspan class="i">γ</tspan></tspan></text></g>
<g id="n1g-1R" transform="translate(60.6,-60.45)"><circle class="d" r="4.5"/><text class="s"><tspan class="u" x="12" y="6">u</tspan><tspan x="23" y="-4">1<tspan class="i">R</tspan></tspan><tspan x="23" y="12">1<tspan class="i">γ</tspan></tspan></text></g>
<g id="n1g-2" transform="translate(60.6,-120.9)"><circle class="d" r="4.5"/><text class="s"><tspan class="u" x="12" y="6">u</tspan><tspan x="23" y="-4">2</tspan><tspan x="23" y="12">1<tspan class="i">γ</tspan></tspan></text></g>
<g id="n1g-3" transform="translate(60.6,-181.35)"><circle class="d" r="4.5"/><text class="s"><tspan class="u" x="12" y="6">u</tspan><tspan x="23" y="-4">3</tspan><tspan x="23" y="12">1<tspan class="i">γ</tspan></tspan></text></g>
<g id="n1g-4L" transform="translate(60.6,-241.8)"><circle class="d" r="4.5"/><text class="s"><tspan class="u" x="-46" y="6">u</tspan><tspan x="-35" y="-4">4<tspan class="i">L</tspan></tspan><tspan x="-35" y="12">1<tspan class="i">γ</tspan></tspan></text></g>
<g id="n1g-3R" transform="translate(121.2,-181.35)"><circle class="d" r="4.5"/><text class="s"><tspan class="u" x="12" y="6">u</tspan><tspan x="23" y="-4">3<tspan class="i">R</tspan></tspan><tspan x="23" y="12">1<tspan class="i">γ</tspan></tspan></text></g>
<g id="n1g-4" transform="translate(121.2,-241.8)"><circle class="d" r="4.5"/><text class="s"><tspan class="u" x="12" y="6">u</tspan><tspan x="23" y="-4">4</tspan><tspan x="23" y="12">1<tspan class="i">γ</tspan></tspan></text></g>
<g id="n1g-5L" transform="translate(121.2,-302.25)"><circle class="d" r="4.5"/><text class="s"><tspan class="u" x="-46" y="6">u</tspan><tspan x="-35" y="-4">5<tspan class="i">L</tspan></tspan><tspan x="-35" y="12">1<tspan class="i">γ</tspan></tspan></text></g>
<g id="n1g-4R" transform="translate(181.8,-241.8)"><circle class="d" r="4.5"/><text class="s"><tspan class="u" x="12" y="6">u</tspan><tspan x="23" y="-4">4<tspan class="i">R</tspan></tspan><tspan x="23" y="12">1<tspan class="i">γ</tspan></tspan></text></g>
<g id="n1g-5" transform="translate(181.8,-302.25)"><circle class="d" r="4.5"/><text class="s"><tspan class="u" x="12" y="6">u</tspan><tspan x="23" y="-4">5</tspan><tspan x="23" y="12">1<tspan class="i">γ</tspan></tspan></text></g>
<g id="n1g-tgt" transform="translate(181.8,-362.7)"><circle class="o" r="3.5"/><text class="big gk" y="-12">γ</text></g>
</g>
<g id="graph-1d" transform="translate(860,919)">
<g id="n1d-src" transform="translate(0,60.45)"><circle class="o" r="3.5"/><text class="big" y="31.5">1</text></g>
<g id="n1d-0" transform="translate(0,0)"><circle class="d" r="4.5"/><text class="s"><tspan class="u" x="12" y="6">u</tspan><tspan x="23" y="-4">0</tspan><tspan x="23" y="12">1<tspan class="i">δ</tspan></tspan></text></g>
<g id="n1d-1" transform="translate(0,-60.45)"><circle class="d" r="4.5"/><text class="s"><tspan class="u" x="12" y="6">u</tspan><tspan x="23" y="-4">1</tspan><tspan x="23" y="12">1<tspan class="i">δ</tspan></tspan></text></g>
<g id="n1d-2" transform="translate(0,-120.9)"><circle class="d" r="4.5"/><text class="s"><tspan class="u" x="12" y="6">u</tspan><tspan x="23" y="-4">2</tspan><tspan x="23" y="12">1<tspan class="i">δ</tspan></tspan></text></g>
<g id="n1d-3L" transform="translate(0,-181.35)"><circle class="d" r="4.5"/><text class="s"><tspan class="u" x="-46" y="6">u</tspan><tspan x="-35" y="-4">3<tspan class="i">L</tspan></tspan><tspan x="-35" y="12">1<tspan class="i">δ</tspan></tspan></text></g>
<g id="n1d-2R" transform="translate(60.6,-120.9)"><circle class="d" r="4.5"/><text class="s"><tspan class="u" x="12" y="6">u</tspan><tspan x="23" y="-4">2<tspan class="i">R</tspan></tspan><tspan x="23" y="12">1<tspan class="i">δ</tspan></tspan></text></g>
<g id="n1d-3" transform="translate(60.6,-181.35)"><circle class="d" r="4.5"/><text class="s"><tspan class="u" x="12" y="6">u</tspan><tspan x="23" y="-4">3</tspan><tspan x="23" y="12">1<tspan class="i">δ</tspan></tspan></text></g>
<g id="n1d-4" transform="translate(60.6,-241.8)"><circle class="d" r="4.5"/><text class="s"><tspan class="u" x="12" y="6">u</tspan><tspan x="23" y="-4">4</tspan><tspan x="23" y="12">1<tspan class="i">δ</tspan></tspan></text></g>
<g id="n1d-5L" transform="translate(60.6,-302.25)"><circle class="d" r="4.5"/><text class="s"><tspan class="u" x="-46" y="6">u</tspan><tspan x="-35" y="-4">5<tspan class="i">L</tspan></tspan><tspan x="-35" y="12">1<tspan class="i">δ</tspan></tspan></text></g>
<g id="n1d-4R" transform="translate(121.2,-241.8)"><circle class="d" r="4.5"/><text class="s"><tspan class="u" x="12" y="6">u</tspan><tspan x="23" y="-4">4<tspan class="i">R</tspan></tspan><tspan x="23" y="12">1<tspan class="i">δ</tspan></tspan></text></g>
<g id="n1d-5" transform="translate(121.2,-302.25)"><circle class="d" r="4.5"/><text class="s"><tspan class="u" x="12" y="6">u</tspan><tspan x="23" y="-4">5</tspan><tspan x="23" y="12">1<tspan class="i">δ</tspan></tspan></text></g>
<g id="n1d-tgt" transform="translate(121.2,-362.7)"><circle class="o" r="3.5"/><text class="big gk" y="-12">δ</text></g>
</g>
<g id="graph-1t" transform="translate(1041,919)">
<g id="n1t-src" transform="translate(0,60.45)"><circle class="o" r="3.5"/><text class="big" y="31.5">1</text></g>
<g id="n1t-0" transform="translate(0,0)"><circle class="d" r="4.5"/><text class="s"><tspan class="u" x="12" y="6">u</tspan><tspan x="23" y="-4">0</tspan><tspan x="23" y="12">1<tspan class="i">τ</tspan></tspan></text></g>
<g id="n1t-1L" transform="translate(0,-60.45)"><circle class="d" r="4.5"/><text class="s"><tspan class="u" x="-46" y="6">u</tspan><tspan x="-35" y="-4">1<tspan class="i">L</tspan></tspan><tspan x="-35" y="12">1<tspan class="i">τ</tspan></tspan></text></g>
<g id="n1t-0R" transform="translate(60.6,0)"><circle class="d" r="4.5"/><text class="s"><tspan class="u" x="12" y="6">u</tspan><tspan x="23" y="-4">0<tspan class="i">R</tspan></tspan><tspan x="23" y="12">1<tspan class="i">τ</tspan></tspan></text></g>
<g id="n1t-1" transform="translate(60.6,-60.45)"><circle class="d" r="4.5"/><text class="s"><tspan class="u" x="12" y="6">u</tspan><tspan x="23" y="-4">1</tspan><tspan x="23" y="12">1<tspan class="i">τ</tspan></tspan></text></g>
<g id="n1t-2L" transform="translate(60.6,-120.9)"><circle class="d" r="4.5"/><text class="s"><tspan class="u" x="-46" y="6">u</tspan><tspan x="-35" y="-4">2<tspan class="i">L</tspan></tspan><tspan x="-35" y="12">1<tspan class="i">τ</tspan></tspan></text></g>
<g id="n1t-1R" transform="translate(121.2,-60.45)"><circle class="d" r="4.5"/><text class="s"><tspan class="u" x="12" y="6">u</tspan><tspan x="23" y="-4">1<tspan class="i">R</tspan></tspan><tspan x="23" y="12">1<tspan class="i">τ</tspan></tspan></text></g>
<g id="n1t-2" transform="translate(121.2,-120.9)"><circle class="d" r="4.5"/><text class="s"><tspan class="u" x="12" y="6">u</tspan><tspan x="23" y="-4">2</tspan><tspan x="23" y="12">1<tspan class="i">τ</tspan></tspan></text></g>
<g id="n1t-3L" transform="translate(121.2,-181.35)"><circle class="d" r="4.5"/><text class="s"><tspan class="u" x="-46" y="6">u</tspan><tspan x="-35" y="-4">3<tspan class="i">L</tspan></tspan><tspan x="-35" y="12">1<tspan class="i">τ</tspan></tspan></text></g>
<g id="n1t-2R" transform="translate(181.8,-120.9)"><circle class="d" r="4.5"/><text class="s"><tspan class="u" x="12" y="6">u</tspan><tspan x="23" y="-4">2<tspan class="i">R</tspan></tspan><tspan x="23" y="12">1<tspan class="i">τ</tspan></tspan></text></g>
<g id="n1t-3" transform="translate(181.8,-181.35)"><circle class="d" r="4.5"/><text class="s"><tspan class="u" x="12" y="6">u</tspan><tspan x="23" y="-4">3</tspan><tspan x="23" y="12">1<tspan class="i">τ</tspan></tspan></text></g>
<g id="n1t-4L" transform="translate(181.8,-241.8)"><circle class="d" r="4.5"/><text class="s"><tspan class="u" x="-46" y="6">u</tspan><tspan x="-35" y="-4">4<tspan class="i">L</tspan></tspan><tspan x="-35" y="12">1<tspan class="i">τ</tspan></tspan></text></g>
<g id="n1t-3R" transform="translate(242.4,-181.35)"><circle class="d" r="4.5"/><text class="s"><tspan class="u" x="12" y="6">u</tspan><tspan x="23" y="-4">3<tspan class="i">R</tspan></tspan><tspan x="23" y="12">1<tspan class="i">τ</tspan></tspan></text></g>
<g id="n1t-4" transform="translate(242.4,-241.8)"><circle class="d" r="4.5"/><text class="s"><tspan class="u" x="12" y="6">u</tspan><tspan x="23" y="-4">4</tspan><tspan x="23" y="12">1<tspan class="i">τ</tspan></tspan></text></g>
<g id="n1t-5L" transform="translate(242.4,-302.25)"><circle class="d" r="4.5"/><text class="s"><tspan class="u" x="-46" y="6">u</tspan><tspan x="-35" y="-4">5<tspan class="i">L</tspan></tspan><tspan x="-35" y="12">1<tspan class="i">τ</tspan></tspan></text></g>
<g id="n1t-4R" transform="translate(303,-241.8)"><circle class="d" r="4.5"/><text class="s"><tspan class="u" x="12" y="6">u</tspan><tspan x="23" y="-4">4<tspan class="i">R</tspan></tspan><tspan x="23" y="12">1<tspan class="i">τ</tspan></tspan></text></g>
<g id="n1t-5" transform="translate(303,-302.25)"><circle class="d" r="4.5"/><text class="s"><tspan class="u" x="12" y="6">u</tspan><tspan x="23" y="-4">5</tspan><tspan x="23" y="12">1<tspan class="i">τ</tspan></tspan></text></g>
<g id="n1t-tgt" transform="translate(303,-362.7)"><circle class="o" r="3.5"/><text class="big gk" y="-12">τ</text></g>
</g>
<g id="graph-2a" transform="translate(55,1437.5)">
<g id="n2a-src" transform="translate(0,60.45)"><circle class="o" r="3.5"/><text class="big" y="31.5">2</text></g>
<g id="n2a-0" transform="translate(0,0)"><circle class="d" r="4.5"/><text class="s"><tspan class="u" x="12" y="6">u</tspan><tspan x="23" y="-4">0</tspan><tspan x="23" y="12">2<tspan class="i">α</tspan></tspan></text></g>
<g id="n2a-1L" transform="translate(0,-60.45)"><circle class="d" r="4.5"/><text class="s"><tspan class="u" x="-46" y="6">u</tspan><tspan x="-35" y="-4">1<tspan class="i">L</tspan></tspan><tspan x="-35" y="12">2<tspan class="i">α</tspan></tspan></text></g>
<g id="n2a-0R" transform="translate(60.6,0)"><circle class="d" r="4.5"/><text class="s"><tspan class="u" x="12" y="6">u</tspan><tspan x="23" y="-4">0<tspan class="i">R</tspan></tspan><tspan x="23" y="12">2<tspan class="i">α</tspan></tspan></text></g>
<g id="n2a-1" transform="translate(60.6,-60.45)"><circle class="d" r="4.5"/><text class="s"><tspan class="u" x="12" y="6">u</tspan><tspan x="23" y="-4">1</tspan><tspan x="23" y="12">2<tspan class="i">α</tspan></tspan></text></g>
<g id="n2a-2L" transform="translate(60.6,-120.9)"><circle class="d" r="4.5"/><text class="s"><tspan class="u" x="-46" y="6">u</tspan><tspan x="-35" y="-4">2<tspan class="i">L</tspan></tspan><tspan x="-35" y="12">2<tspan class="i">α</tspan></tspan></text></g>
<g id="n2a-1R" transform="translate(121.2,-60.45)"><circle class="d" r="4.5"/><text class="s"><tspan class="u" x="12" y="6">u</tspan><tspan x="23" y="-4">1<tspan class="i">R</tspan></tspan><tspan x="23" y="12">2<tspan class="i">α</tspan></tspan></text></g>
<g id="n2a-2" transform="translate(121.2,-120.9)"><circle class="d" r="4.5"/><text class="s"><tspan class="u" x="12" y="6">u</tspan><tspan x="23" y="-4">2</tspan><tspan x="23" y="12">2<tspan class="i">α</tspan></tspan></text></g>
<g id="n2a-3L" transform="translate(121.2,-181.35)"><circle class="d" r="4.5"/><text class="s"><tspan class="u" x="-46" y="6">u</tspan><tspan x="-35" y="-4">3<tspan class="i">L</tspan></tspan><tspan x="-35" y="12">2<tspan class="i">α</tspan></tspan></text></g>
<g id="n2a-2R" transform="translate(181.8,-120.9)"><circle class="d" r="4.5"/><text class="s"><tspan class="u" x="12" y="6">u</tspan><tspan x="23" y="-4">2<tspan class="i">R</tspan></tspan><tspan x="23" y="12">2<tspan class="i">α</tspan></tspan></text></g>
<g id="n2a-3" transform="translate(181.8,-181.35)"><circle class="d" r="4.5"/><text class="s"><tspan class="u" x="12" y="6">u</tspan><tspan x="23" y="-4">3</tspan><tspan x="23" y="12">2<tspan class="i">α</tspan></tspan></text></g>
<g id="n2a-4L" transform="translate(181.8,-241.8)"><circle class="d" r="4.5"/><text class="s"><tspan class="u" x="-46" y="6">u</tspan><tspan x="-35" y="-4">4<tspan class="i">L</tspan></tspan><tspan x="-35" y="12">2<tspan class="i">α</tspan></tspan></text></g>
<g id="n2a-3R" transform="translate(242.4,-181.35)"><circle class="d" r="4.5"/><text class="s"><tspan class="u" x="12" y="6">u</tspan><tspan x="23" y="-4">3<tspan class="i">R</tspan></tspan><tspan x="23" y="12">2<tspan class="i">α</tspan></tspan></text></g>
<g id="n2a-4" transform="translate(242.4,-241.8)"><circle class="d" r="4.5"/><text class="s"><tspan class="u" x="12" y="6">u</tspan><tspan x="23" y="-4">4</tspan><tspan x="23" y="12">2<tspan class="i">α</tspan></tspan></text></g>
<g id="n2a-5L" transform="translate(242.4,-302.25)"><circle class="d" r="4.5"/><text class="s"><tspan class="u" x="-46" y="6">u</tspan><tspan x="-35" y="-4">5<tspan class="i">L</tspan></tspan><tspan x="-35" y="12">2<tspan class="i">α</tspan></tspan></text></g>
<g id="n2a-4R" transform="translate(303,-241.8)"><circle class="d" r="4.5"/><text class="s"><tspan class="u" x="12" y="6">u</tspan><tspan x="23" y="-4">4<tspan class="i">R</tspan></tspan><tspan x="23" y="12">2<tspan class="i">α</tspan></tspan></text></g>
<g id="n2a-5" transform="translate(303,-302.25)"><circle class="d" r="4.5"/><text class="s"><tspan class="u" x="12" y="6">u</tspan><tspan x="23" y="-4">5</tspan><tspan x="23" y="12">2<tspan class="i">α</tspan></tspan></text></g>
<g id="n2a-tgt" transform="translate(303,-362.7)"><circle class="o" r="3.5"/><text class="big gk" y="-12">α</text></g>
</g>
<g id="graph-2b" transform="translate(327,1437.5)">
<g id="n2b-src" transform="translate(0,60.45)"><circle class="o" r="3.5"/><text class="big" y="31.5">2</text></g>
<g id="n2b-0" transform="translate(0,0)"><circle class="d" r="4.5"/><text class="s"><tspan class="u" x="12" y="6">u</tspan><tspan x="23" y="-4">0</tspan><tspan x="23" y="12">2<tspan class="i">β</tspan></tspan></text></g>
<g id="n2b-1L" transform="translate(0,-60.45)"><circle class="d" r="4.5"/><text class="s"><tspan class="u" x="-46" y="6">u</tspan><tspan x="-35" y="-4">1<tspan class="i">L</tspan></tspan><tspan x="-35" y="12">2<tspan class="i">β</tspan></tspan></text></g>
<g id="n2b-0R" transform="translate(60.6,0)"><circle class="d" r="4.5"/><text class="s"><tspan class="u" x="12" y="6">u</tspan><tspan x="23" y="-4">0<tspan class="i">R</tspan></tspan><tspan x="23" y="12">2<tspan class="i">β</tspan></tspan></text></g>
<g id="n2b-1" transform="translate(60.6,-60.45)"><circle class="d" r="4.5"/><text class="s"><tspan class="u" x="12" y="6">u</tspan><tspan x="23" y="-4">1</tspan><tspan x="23" y="12">2<tspan class="i">β</tspan></tspan></text></g>
<g id="n2b-2L" transform="translate(60.6,-120.9)"><circle class="d" r="4.5"/><text class="s"><tspan class="u" x="-46" y="6">u</tspan><tspan x="-35" y="-4">2<tspan class="i">L</tspan></tspan><tspan x="-35" y="12">2<tspan class="i">β</tspan></tspan></text></g>
<g id="n2b-1R" transform="translate(121.2,-60.45)"><circle class="d" r="4.5"/><text class="s"><tspan class="u" x="12" y="6">u</tspan><tspan x="23" y="-4">1<tspan class="i">R</tspan></tspan><tspan x="23" y="12">2<tspan class="i">β</tspan></tspan></text></g>
<g id="n2b-2" transform="translate(121.2,-120.9)"><circle class="d" r="4.5"/><text class="s"><tspan class="u" x="12" y="6">u</tspan><tspan x="23" y="-4">2</tspan><tspan x="23" y="12">2<tspan class="i">β</tspan></tspan></text></g>
<g id="n2b-3L" transform="translate(121.2,-181.35)"><circle class="d" r="4.5"/><text class="s"><tspan class="u" x="-46" y="6">u</tspan><tspan x="-35" y="-4">3<tspan class="i">L</tspan></tspan><tspan x="-35" y="12">2<tspan class="i">β</tspan></tspan></text></g>
<g id="n2b-2R" transform="translate(181.8,-120.9)"><circle class="d" r="4.5"/><text class="s"><tspan class="u" x="12" y="6">u</tspan><tspan x="23" y="-4">2<tspan class="i">R</tspan></tspan><tspan x="23" y="12">2<tspan class="i">β</tspan></tspan></text></g>
<g id="n2b-3" transform="translate(181.8,-181.35)"><circle class="d" r="4.5"/><text class="s"><tspan class="u" x="12" y="6">u</tspan><tspan x="23" y="-4">3</tspan><tspan x="23" y="12">2<tspan class="i">β</tspan></tspan></text></g>
<g id="n2b-4L" transform="translate(181.8,-241.8)"><circle class="d" r="4.5"/><text class="s"><tspan class="u" x="-46" y="6">u</tspan><tspan x="-35" y="-4">4<tspan class="i">L</tspan></tspan><tspan x="-35" y="12">2<tspan class="i">β</tspan></tspan></text></g>
<g id="n2b-3R" transform="translate(242.4,-181.35)"><circle class="d" r="4.5"/><text class="s"><tspan class="u" x="12" y="6">u</tspan><tspan x="23" y="-4">3<tspan class="i">R</tspan></tspan><tspan x="23" y="12">2<tspan class="i">β</tspan></tspan></text></g>
<g id="n2b-4" transform="translate(242.4,-241.8)"><circle class="d" r="4.5"/><text class="s"><tspan class="u" x="12" y="6">u</tspan><tspan x="23" y="-4">4</tspan><tspan x="23" y="12">2<tspan class="i">β</tspan></tspan></text></g>
<g id="n2b-5L" transform="translate(242.4,-302.25)"><circle class="d" r="4.5"/><text class="s"><tspan class="u" x="-46" y="6">u</tspan><tspan x="-35" y="-4">5<tspan class="i">L</tspan></tspan><tspan x="-35" y="12">2<tspan class="i">β</tspan></tspan></text></g>
<g id="n2b-4R" transform="translate(303,-241.8)"><circle class="d" r="4.5"/><text class="s"><tspan class="u" x="12" y="6">u</tspan><tspan x="23" y="-4">4<tspan class="i">R</tspan></tspan><tspan x="23" y="12">2<tspan class="i">β</tspan></tspan></text></g>
<g id="n2b-5" transform="translate(303,-302.25)"><circle class="d" r="4.5"/><text class="s"><tspan class="u" x="12" y="6">u</tspan><tspan x="23" y="-4">5</tspan><tspan x="23" y="12">2<tspan class="i">β</tspan></tspan></text></g>
<g id="n2b-tgt" transform="translate(303,-362.7)"><circle class="o" r="3.5"/><text class="big gk" y="-12">β</text></g>
</g>
<g id="graph-2g" transform="translate(599,1437.5)">
<g id="n2g-src" transform="translate(0,60.45)"><circle class="o" r="3.5"/><text class="big" y="31.5">2</text></g>
<g id="n2g-0" transform="translate(0,0)"><circle class="d" r="4.5"/><text class="s"><tspan class="u" x="12" y="6">u</tspan><tspan x="23" y="-4">0</tspan><tspan x="23" y="12">2<tspan class="i">γ</tspan></tspan></text></g>
<g id="n2g-1L" transform="translate(0,-60.45)"><circle class="d" r="4.5"/><text class="s"><tspan class="u" x="-46" y="6">u</tspan><tspan x="-35" y="-4">1<tspan class="i">L</tspan></tspan><tspan x="-35" y="12">2<tspan class="i">γ</tspan></tspan></text></g>
<g id="n2g-0R" transform="translate(60.6,0)"><circle class="d" r="4.5"/><text class="s"><tspan class="u" x="12" y="6">u</tspan><tspan x="23" y="-4">0<tspan class="i">R</tspan></tspan><tspan x="23" y="12">2<tspan class="i">γ</tspan></tspan></text></g>
<g id="n2g-1" transform="translate(60.6,-60.45)"><circle class="d" r="4.5"/><text class="s"><tspan class="u" x="12" y="6">u</tspan><tspan x="23" y="-4">1</tspan><tspan x="23" y="12">2<tspan class="i">γ</tspan></tspan></text></g>
<g id="n2g-2L" transform="translate(60.6,-120.9)"><circle class="d" r="4.5"/><text class="s"><tspan class="u" x="-46" y="6">u</tspan><tspan x="-35" y="-4">2<tspan class="i">L</tspan></tspan><tspan x="-35" y="12">2<tspan class="i">γ</tspan></tspan></text></g>
<g id="n2g-1R" transform="translate(121.2,-60.45)"><circle class="d" r="4.5"/><text class="s"><tspan class="u" x="12" y="6">u</tspan><tspan x="23" y="-4">1<tspan class="i">R</tspan></tspan><tspan x="23" y="12">2<tspan class="i">γ</tspan></tspan></text></g>
<g id="n2g-2" transform="translate(121.2,-120.9)"><circle class="d" r="4.5"/><text class="s"><tspan class="u" x="12" y="6">u</tspan><tspan x="23" y="-4">2</tspan><tspan x="23" y="12">2<tspan class="i">γ</tspan></tspan></text></g>
<g id="n2g-3L" transform="translate(121.2,-181.35)"><circle class="d" r="4.5"/><text class="s"><tspan class="u" x="-46" y="6">u</tspan><tspan x="-35" y="-4">3<tspan class="i">L</tspan></tspan><tspan x="-35" y="12">2<tspan class="i">γ</tspan></tspan></text></g>
<g id="n2g-2R" transform="translate(181.8,-120.9)"><circle class="d" r="4.5"/><text class="s"><tspan class="u" x="12" y="6">u</tspan><tspan x="23" y="-4">2<tspan class="i">R</tspan></tspan><tspan x="23" y="12">2<tspan class="i">γ</tspan></tspan></text></g>
<g id="n2g-3" transform="translate(181.8,-181.35)"><circle class="d" r="4.5"/><text class="s"><tspan class="u" x="12" y="6">u</tspan><tspan x="23" y="-4">3</tspan><tspan x="23" y="12">2<tspan class="i">γ</tspan></tspan></text></g>
<g id="n2g-4L" transform="translate(181.8,-241.8)"><circle class="d" r="4.5"/><text class="s"><tspan class="u" x="-46" y="6">u</tspan><tspan x="-35" y="-4">4<tspan class="i">L</tspan></tspan><tspan x="-35" y="12">2<tspan class="i">γ</tspan></tspan></text></g>
<g id="n2g-3R" transform="translate(242.4,-181.35)"><circle class="d" r="4.5"/><text class="s"><tspan class="u" x="12" y="6">u</tspan><tspan x="23" y="-4">3<tspan class="i">R</tspan></tspan><tspan x="23" y="12">2<tspan class="i">γ</tspan></tspan></text></g>
<g id="n2g-4" transform="translate(242.4,-241.8)"><circle class="d" r="4.5"/><text class="s"><tspan class="u" x="12" y="6">u</tspan><tspan x="23" y="-4">4</tspan><tspan x="23" y="12">2<tspan class="i">γ</tspan></tspan></text></g>
<g id="n2g-5L" transform="translate(242.4,-302.25)"><circle class="d" r="4.5"/><text class="s"><tspan class="u" x="-46" y="6">u</tspan><tspan x="-35" y="-4">5<tspan class="i">L</tspan></tspan><tspan x="-35" y="12">2<tspan class="i">γ</tspan></tspan></text></g>
<g id="n2g-4R" transform="translate(303,-241.8)"><circle class="d" r="4.5"/><text class="s"><tspan class="u" x="12" y="6">u</tspan><tspan x="23" y="-4">4<tspan class="i">R</tspan></tspan><tspan x="23" y="12">2<tspan class="i">γ</tspan></tspan></text></g>
<g id="n2g-5" transform="translate(303,-302.25)"><circle class="d" r="4.5"/><text class="s"><tspan class="u" x="12" y="6">u</tspan><tspan x="23" y="-4">5</tspan><tspan x="23" y="12">2<tspan class="i">γ</tspan></tspan></text></g>
<g id="n2g-tgt" transform="translate(303,-362.7)"><circle class="o" r="3.5"/><text class="big gk" y="-12">γ</text></g>
</g>
<g id="graph-2d" transform="translate(871,1437.5)">
<g id="n2d-src" transform="translate(0,60.45)"><circle class="o" r="3.5"/><text class="big" y="31.5">2</text></g>
<g id="n2d-0" transform="translate(0,0)"><circle class="d" r="4.5"/><text class="s"><tspan class="u" x="12" y="6">u</tspan><tspan x="23" y="-4">0</tspan><tspan x="23" y="12">2<tspan class="i">δ</tspan></tspan></text></g>
<g id="n2d-1L" transform="translate(0,-60.45)"><circle class="d" r="4.5"/><text class="s"><tspan class="u" x="-46" y="6">u</tspan><tspan x="-35" y="-4">1<tspan class="i">L</tspan></tspan><tspan x="-35" y="12">2<tspan class="i">δ</tspan></tspan></text></g>
<g id="n2d-0R" transform="translate(60.6,0)"><circle class="d" r="4.5"/><text class="s"><tspan class="u" x="12" y="6">u</tspan><tspan x="23" y="-4">0<tspan class="i">R</tspan></tspan><tspan x="23" y="12">2<tspan class="i">δ</tspan></tspan></text></g>
<g id="n2d-1" transform="translate(60.6,-60.45)"><circle class="d" r="4.5"/><text class="s"><tspan class="u" x="12" y="6">u</tspan><tspan x="23" y="-4">1</tspan><tspan x="23" y="12">2<tspan class="i">δ</tspan></tspan></text></g>
<g id="n2d-2L" transform="translate(60.6,-120.9)"><circle class="d" r="4.5"/><text class="s"><tspan class="u" x="-46" y="6">u</tspan><tspan x="-35" y="-4">2<tspan class="i">L</tspan></tspan><tspan x="-35" y="12">2<tspan class="i">δ</tspan></tspan></text></g>
<g id="n2d-1R" transform="translate(121.2,-60.45)"><circle class="d" r="4.5"/><text class="s"><tspan class="u" x="12" y="6">u</tspan><tspan x="23" y="-4">1<tspan class="i">R</tspan></tspan><tspan x="23" y="12">2<tspan class="i">δ</tspan></tspan></text></g>
<g id="n2d-2" transform="translate(121.2,-120.9)"><circle class="d" r="4.5"/><text class="s"><tspan class="u" x="12" y="6">u</tspan><tspan x="23" y="-4">2</tspan><tspan x="23" y="12">2<tspan class="i">δ</tspan></tspan></text></g>
<g id="n2d-3L" transform="translate(121.2,-181.35)"><circle class="d" r="4.5"/><text class="s"><tspan class="u" x="-46" y="6">u</tspan><tspan x="-35" y="-4">3<tspan class="i">L</tspan></tspan><tspan x="-35" y="12">2<tspan class="i">δ</tspan></tspan></text></g>
<g id="n2d-2R" transform="translate(181.8,-120.9)"><circle class="d" r="4.5"/><text class="s"><tspan class="u" x="12" y="6">u</tspan><tspan x="23" y="-4">2<tspan class="i">R</tspan></tspan><tspan x="23" y="12">2<tspan class="i">δ</tspan></tspan></text></g>
<g id="n2d-3" transform="translate(181.8,-181.35)"><circle class="d" r="4.5"/><text class="s"><tspan class="u" x="12" y="6">u</tspan><tspan x="23" y="-4">3</tspan><tspan x="23" y="12">2<tspan class="i">δ</tspan></tspan></text></g>
<g id="n2d-4L" transform="translate(181.8,-241.8)"><circle class="d" r="4.5"/><text class="s"><tspan class="u" x="-46" y="6">u</tspan><tspan x="-35" y="-4">4<tspan class="i">L</tspan></tspan><tspan x="-35" y="12">2<tspan class="i">δ</tspan></tspan></text></g>
<g id="n2d-3R" transform="translate(242.4,-181.35)"><circle class="d" r="4.5"/><text class="s"><tspan class="u" x="12" y="6">u</tspan><tspan x="23" y="-4">3<tspan class="i">R</tspan></tspan><tspan x="23" y="12">2<tspan class="i">δ</tspan></tspan></text></g>
<g id="n2d-4" transform="translate(242.4,-241.8)"><circle class="d" r="4.5"/><text class="s"><tspan class="u" x="12" y="6">u</tspan><tspan x="23" y="-4">4</tspan><tspan x="23" y="12">2<tspan class="i">δ</tspan></tspan></text></g>
<g id="n2d-5L" transform="translate(242.4,-302.25)"><circle class="d" r="4.5"/><text class="s"><tspan class="u" x="-46" y="6">u</tspan><tspan x="-35" y="-4">5<tspan class="i">L</tspan></tspan><tspan x="-35" y="12">2<tspan class="i">δ</tspan></tspan></text></g>
<g id="n2d-4R" transform="translate(303,-241.8)"><circle class="d" r="4.5"/><text class="s"><tspan class="u" x="12" y="6">u</tspan><tspan x="23" y="-4">4<tspan class="i">R</tspan></tspan><tspan x="23" y="12">2<tspan class="i">δ</tspan></tspan></text></g>
<g id="n2d-5" transform="translate(303,-302.25)"><circle class="d" r="4.5"/><text class="s"><tspan class="u" x="12" y="6">u</tspan><tspan x="23" y="-4">5</tspan><tspan x="23" y="12">2<tspan class="i">δ</tspan></tspan></text></g>
<g id="n2d-tgt" transform="translate(303,-362.7)"><circle class="o" r="3.5"/><text class="big gk" y="-12">δ</text></g>
</g>
<g id="graph-2t" transform="translate(1295,1437.5)">
<g id="n2t-src" transform="translate(0,60.45)"><circle class="o" r="3.5"/><text class="big" y="31.5">2</text></g>
<g id="n2t-0" transform="translate(0,0)"><circle class="d" r="4.5"/><text class="s"><tspan class="u" x="12" y="6">u</tspan><tspan x="23" y="-4">0</tspan><tspan x="23" y="12">2<tspan class="i">τ</tspan></tspan></text></g>
<g id="n2t-1" transform="translate(0,-60.45)"><circle class="d" r="4.5"/><text class="s"><tspan class="u" x="12" y="6">u</tspan><tspan x="23" y="-4">1</tspan><tspan x="23" y="12">2<tspan class="i">τ</tspan></tspan></text></g>
<g id="n2t-2" transform="translate(0,-120.9)"><circle class="d" r="4.5"/><text class="s"><tspan class="u" x="12" y="6">u</tspan><tspan x="23" y="-4">2</tspan><tspan x="23" y="12">2<tspan class="i">τ</tspan></tspan></text></g>
<g id="n2t-3" transform="translate(0,-181.35)"><circle class="d" r="4.5"/><text class="s"><tspan class="u" x="12" y="6">u</tspan><tspan x="23" y="-4">3</tspan><tspan x="23" y="12">2<tspan class="i">τ</tspan></tspan></text></g>
<g id="n2t-4" transform="translate(0,-241.8)"><circle class="d" r="4.5"/><text class="s"><tspan class="u" x="12" y="6">u</tspan><tspan x="23" y="-4">4</tspan><tspan x="23" y="12">2<tspan class="i">τ</tspan></tspan></text></g>
<g id="n2t-5L" transform="translate(0,-302.25)"><circle class="d" r="4.5"/><text class="s"><tspan class="u" x="-46" y="6">u</tspan><tspan x="-35" y="-4">5<tspan class="i">L</tspan></tspan><tspan x="-35" y="12">2<tspan class="i">τ</tspan></tspan></text></g>
<g id="n2t-4R" transform="translate(60.6,-241.8)"><circle class="d" r="4.5"/><text class="s"><tspan class="u" x="12" y="6">u</tspan><tspan x="23" y="-4">4<tspan class="i">R</tspan></tspan><tspan x="23" y="12">2<tspan class="i">τ</tspan></tspan></text></g>
<g id="n2t-5" transform="translate(60.6,-302.25)"><circle class="d" r="4.5"/><text class="s"><tspan class="u" x="12" y="6">u</tspan><tspan x="23" y="-4">5</tspan><tspan x="23" y="12">2<tspan class="i">τ</tspan></tspan></text></g>
<g id="n2t-tgt" transform="translate(60.6,-362.7)"><circle class="o" r="3.5"/><text class="big gk" y="-12">τ</text></g>
</g>
</g>
</svg>
